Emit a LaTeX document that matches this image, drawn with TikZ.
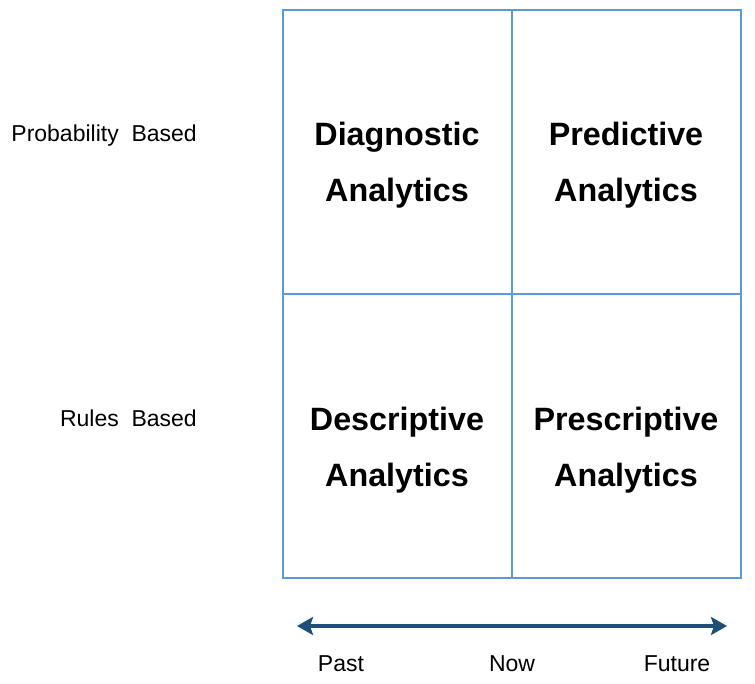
\documentclass[tikz,border=0pt]{standalone}
\usepackage{fontspec}
\setmainfont{Liberation Sans}
\usetikzlibrary{arrows.meta}
\definecolor{gridblue}{HTML}{5B9BD5}
\definecolor{arrowblue}{HTML}{1F4E79}
\begin{document}
\begin{tikzpicture}[x=1pt,y=-1pt,
  gridline/.style={draw=gridblue,line width=1.5pt},
  cell/.style={font=\fontsize{32.3}{56}\selectfont\bfseries,align=center,text=black},
  lbl/.style={font=\fontsize{23}{26}\selectfont,text=black}]
\useasboundingbox (0,0) rectangle (755,684);
\draw[gridline] (283,10) rectangle (741,578);
\draw[gridline] (512,10) -- (512,578);
\draw[gridline] (283,294) -- (741,294);
\node[cell] (diag) at (397,165) {Diagnostic\\Analytics};
\node[cell] (pred) at (626,165) {Predictive\\Analytics};
\node[cell] (desc) at (397,450.5) {Descriptive\\Analytics};
\node[cell] (presc) at (626,450.5) {Prescriptive\\Analytics};
\node[lbl,anchor=east,inner sep=0pt] (prob) at (197,136) {Probability\ \ Based};
\node[lbl,anchor=east,inner sep=0pt] (rules) at (197,418) {Rules\ \ Based};
\coordinate (aL) at (297,626);
\coordinate (aR) at (727,626);
\draw[arrowblue,line width=4.5pt,{Stealth[length=16pt,width=18pt,inset=3pt]}-{Stealth[length=16pt,width=18pt,inset=3pt]}] (aL) -- (aR);
\node[lbl] (past) at (341,664) {Past};
\node[lbl] (now) at (512,664) {Now};
\node[lbl] (fut) at (677,664) {Future};
\end{tikzpicture}
\end{document}
